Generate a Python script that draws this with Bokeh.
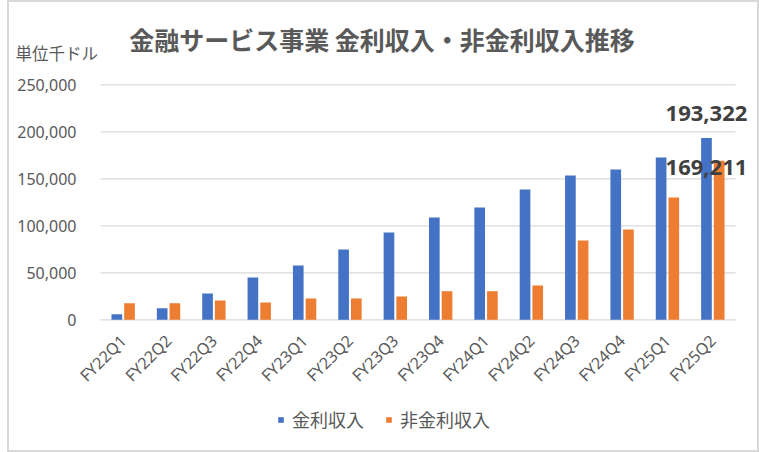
from bokeh.plotting import figure
from bokeh.models import (ColumnDataSource, Legend, LegendItem, NumeralTickFormatter,
                          FixedTicker, Range1d)
from bokeh.transform import dodge
from bokeh.core.properties import value
from bokeh.embed import file_html
from bokeh.resources import INLINE

quarters = ["FY22Q1", "FY22Q2", "FY22Q3", "FY22Q4", "FY23Q1", "FY23Q2", "FY23Q3",
            "FY23Q4", "FY24Q1", "FY24Q2", "FY24Q3", "FY24Q4", "FY25Q1", "FY25Q2"]
interest = [6000, 12300, 28000, 45000, 57800, 74800, 92900,
            108800, 119500, 138600, 153500, 159900, 172700, 193322]
non_interest = [17500, 17500, 20500, 18400, 22700, 22700, 24800,
                30400, 30400, 36500, 84400, 96100, 130100, 169211]
series_names = ["金利収入", "非金利収入"]
y_ticks = [0, 50000, 100000, 150000, 200000, 250000]
title_text = "金融サービス事業 金利収入・非金利収入推移"
unit_text = "単位千ドル"

BLUE = "#4472C4"
ORANGE = "#ED7D31"
GRAY = "#595959"
GRID = "#d9d9d9"
JP = "Noto Sans CJK JP"

# ---- layout constants (page pixels) ----
PAGE_L, PAGE_T, W, H = 9, 2, 748, 448
PLOT_L, PLOT_R = 100, 735          # category area
BASE_Y, TOP_Y = 319.3, 84.3        # pixel rows of 0 and of the top tick
n = len(quarters)
CAT_PX = (PLOT_R - PLOT_L) / n
PX_PER_UNIT = (BASE_Y - TOP_Y) / y_ticks[-1]


def xd(px):
    return (px - PLOT_L) / CAT_PX - 0.5


def yd(py):
    return (BASE_Y - py) / PX_PER_UNIT


idx = list(range(n))
src = ColumnDataSource(dict(xc=idx, a=interest, b=non_interest))

p = figure(width=W, height=H,
           x_range=Range1d(xd(PAGE_L), xd(PAGE_L + W)),
           y_range=Range1d(yd(PAGE_T + H), yd(PAGE_T)),
           output_backend="svg", toolbar_location=None, min_border=0)
p.outline_line_color = None
p.background_fill_color = "white"
p.border_fill_color = "white"
p.grid.visible = False
p.styles = {"outline": "2px solid #d9d9d9", "margin-left": "%dpx" % PAGE_L,
            "margin-top": "%dpx" % PAGE_T}

# gridlines over the category area only
p.segment(x0=[-0.5] * len(y_ticks), x1=[n - 0.5] * len(y_ticks), y0=y_ticks, y1=y_ticks,
          line_color=GRID, line_width=1.3, level="underlay")

r1 = p.vbar(x=dodge("xc", -0.14), top="a", width=0.235, source=src,
            fill_color=BLUE, line_color=None)
r2 = p.vbar(x=dodge("xc", 0.14), top="b", width=0.235, source=src,
            fill_color=ORANGE, line_color=None)

# data labels of the last quarter
lab_a = ColumnDataSource(dict(x=[idx[-1]], y=[interest[-1]], t=[f"{interest[-1]:,}"]))
lab_b = ColumnDataSource(dict(x=[idx[-1]], y=[non_interest[-1]], t=[f"{non_interest[-1]:,}"]))
for s, yo in ((lab_a, -25), (lab_b, 7)):
    p.text(x=dodge("x", -0.14), y="y", text="t", source=s,
           text_font=value("Noto Sans"), text_font_size="22px", text_font_style="bold",
           text_color="#404040", text_align="center", text_baseline="middle",
           y_offset=yo)

# title and unit
p.text(x=[xd(381.5)], y=[yd(38)], text=[title_text], text_font=value(JP),
       text_font_size="25px", text_font_style="bold", text_color=GRAY,
       text_align="center", text_baseline="middle")
p.text(x=[xd(15)], y=[yd(52)], text=[unit_text], text_font=value(JP),
       text_font_size="16.5px", text_color=GRAY,
       text_align="left", text_baseline="middle")

# axes at fixed locations
p.yaxis.fixed_location = -0.5
p.yaxis.ticker = FixedTicker(ticks=y_ticks)
p.yaxis.formatter = NumeralTickFormatter(format="0,0")
p.yaxis.axis_line_color = None
p.yaxis.major_tick_line_color = None
p.yaxis.minor_tick_line_color = None
p.yaxis.major_label_standoff = 18
p.yaxis.major_label_text_font = "Noto Sans"
p.yaxis.major_label_text_font_size = "16px"
p.yaxis.major_label_text_color = GRAY

p.xaxis.fixed_location = 0
p.xaxis.ticker = FixedTicker(ticks=idx)
p.xaxis.major_label_overrides = {i: q for i, q in zip(idx, quarters)}
p.xaxis.axis_line_color = None
p.xaxis.major_tick_line_color = None
p.xaxis.minor_tick_line_color = None
p.xaxis.major_label_orientation = 0.785398
p.xaxis.major_label_standoff = 12
p.xaxis.major_label_text_font = "Noto Sans"
p.xaxis.major_label_text_font_size = "16px"
p.xaxis.major_label_text_color = GRAY

legend = Legend(items=[LegendItem(label=series_names[0], renderers=[r1]),
                       LegendItem(label=series_names[1], renderers=[r2])],
                orientation="horizontal", location=(268, 18),
                border_line_color=None, background_fill_alpha=0,
                label_text_font=JP, label_text_font_size="18px", label_text_color=GRAY,
                glyph_width=7, glyph_height=7, label_standoff=8, spacing=21,
                padding=0, margin=0)
p.add_layout(legend)

open("out.html", "w").write(file_html(p, INLINE))
